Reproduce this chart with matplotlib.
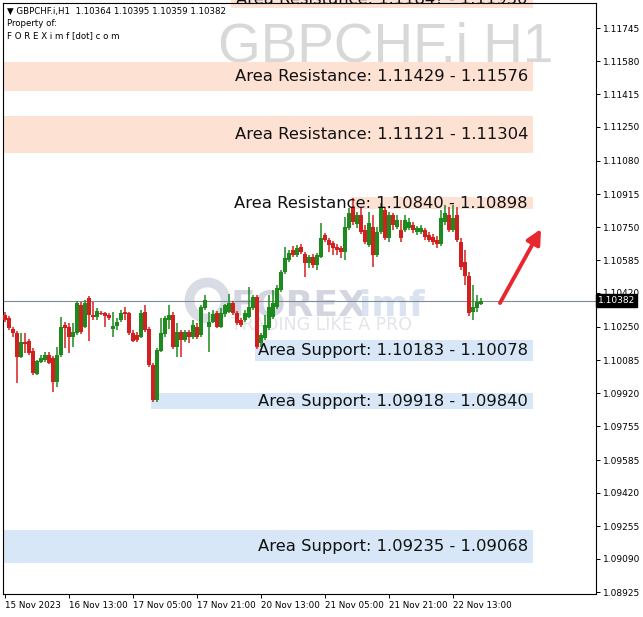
import numpy as np
import matplotlib
matplotlib.use('Agg')
import matplotlib.pyplot as plt
from matplotlib.patches import Rectangle

# GBPCHF.i H1 candles, 15 Nov 2023 21:00 .. 22 Nov 2023 20:00
opens = [
    1.10310, 1.10295, 1.10240, 1.10220, 1.10100, 1.10175, 1.10180, 1.10130, 1.10015, 1.10075,
    1.10085, 1.10110, 1.10095, 1.09975, 1.10110, 1.10260, 1.10250, 1.10200, 1.10220, 1.10360,
    1.10250, 1.10395, 1.10310, 1.10300, 1.10320, 1.10320, 1.10310, 1.10240, 1.10255, 1.10285,
    1.10325, 1.10320, 1.10220, 1.10210, 1.10200, 1.10325, 1.10240, 1.10060, 1.09885, 1.10130,
    1.10215, 1.10285, 1.10310, 1.10150, 1.10225, 1.10185, 1.10225, 1.10200, 1.10250, 1.10210,
    1.10345, 1.10250, 1.10275, 1.10320, 1.10250, 1.10315, 1.10325, 1.10370, 1.10320, 1.10285,
    1.10285, 1.10300, 1.10345, 1.10400, 1.10170, 1.10195, 1.10245, 1.10300, 1.10350, 1.10435,
    1.10525, 1.10585, 1.10635, 1.10610, 1.10650, 1.10615, 1.10570, 1.10600, 1.10560, 1.10600,
    1.10710, 1.10685, 1.10670, 1.10650, 1.10645, 1.10625, 1.10745, 1.10850, 1.10765, 1.10810,
    1.10735, 1.10660, 1.10750, 1.10610, 1.10725, 1.10835, 1.10695, 1.10810, 1.10750, 1.10735,
    1.10735, 1.10745, 1.10760, 1.10725, 1.10725, 1.10735, 1.10710, 1.10700, 1.10685, 1.10665,
    1.10775, 1.10810, 1.10735, 1.10810, 1.10675, 1.10575, 1.10505, 1.10325, 1.10345, 1.10364,
]
highs = [
    1.10325, 1.10305, 1.10250, 1.10230, 1.10220, 1.10220, 1.10190, 1.10145, 1.10085, 1.10110,
    1.10125, 1.10125, 1.10105, 1.10150, 1.10300, 1.10275, 1.10270, 1.10270, 1.10380, 1.10375,
    1.10385, 1.10405, 1.10375, 1.10345, 1.10330, 1.10325, 1.10320, 1.10325, 1.10295, 1.10335,
    1.10350, 1.10325, 1.10235, 1.10225, 1.10335, 1.10360, 1.10250, 1.10070, 1.10145, 1.10295,
    1.10305, 1.10360, 1.10325, 1.10270, 1.10235, 1.10235, 1.10235, 1.10285, 1.10270, 1.10360,
    1.10410, 1.10325, 1.10335, 1.10330, 1.10345, 1.10365, 1.10415, 1.10380, 1.10330, 1.10295,
    1.10335, 1.10450, 1.10410, 1.10410, 1.10220, 1.10310, 1.10410, 1.10435, 1.10460, 1.10535,
    1.10650, 1.10635, 1.10655, 1.10660, 1.10665, 1.10625, 1.10610, 1.10615, 1.10620, 1.10770,
    1.10720, 1.10695, 1.10680, 1.10665, 1.10655, 1.10800, 1.10845, 1.10895, 1.10825, 1.10845,
    1.10760, 1.10825, 1.10810, 1.10750, 1.10870, 1.10850, 1.10825, 1.10820, 1.10810, 1.10785,
    1.10810, 1.10795, 1.10775, 1.10755, 1.10760, 1.10745, 1.10725, 1.10715, 1.10705, 1.10835,
    1.10860, 1.10850, 1.10860, 1.10850, 1.10695, 1.10635, 1.10525, 1.10460, 1.10410, 1.10395,
]
lows = [
    1.10275, 1.10235, 1.10200, 1.09970, 1.10095, 1.10120, 1.10110, 1.10010, 1.10010, 1.10070,
    1.10075, 1.10065, 1.09925, 1.09950, 1.10100, 1.10145, 1.10120, 1.10150, 1.10210, 1.10215,
    1.10245, 1.10180, 1.10285, 1.10285, 1.10310, 1.10250, 1.10285, 1.10200, 1.10235, 1.10275,
    1.10285, 1.10210, 1.10175, 1.10175, 1.10195, 1.10225, 1.10050, 1.09875, 1.09875, 1.10125,
    1.10200, 1.10240, 1.10140, 1.10100, 1.10100, 1.10175, 1.10170, 1.10190, 1.10190, 1.10200,
    1.10335, 1.10125, 1.10270, 1.10245, 1.10245, 1.10300, 1.10320, 1.10310, 1.10260, 1.10250,
    1.10275, 1.10295, 1.10335, 1.10140, 1.10150, 1.10185, 1.10235, 1.10290, 1.10340, 1.10425,
    1.10515, 1.10575, 1.10600, 1.10600, 1.10615, 1.10500, 1.10545, 1.10545, 1.10535, 1.10595,
    1.10675, 1.10625, 1.10610, 1.10610, 1.10595, 1.10585, 1.10735, 1.10760, 1.10745, 1.10715,
    1.10665, 1.10650, 1.10550, 1.10600, 1.10715, 1.10685, 1.10675, 1.10735, 1.10740, 1.10675,
    1.10725, 1.10735, 1.10720, 1.10710, 1.10715, 1.10685, 1.10675, 1.10660, 1.10645, 1.10655,
    1.10760, 1.10725, 1.10725, 1.10675, 1.10535, 1.10460, 1.10305, 1.10285, 1.10325, 1.10359,
]
closes = [
    1.10285, 1.10245, 1.10220, 1.10100, 1.10175, 1.10165, 1.10120, 1.10020, 1.10080, 1.10095,
    1.10110, 1.10070, 1.09975, 1.10110, 1.10250, 1.10245, 1.10200, 1.10225, 1.10370, 1.10225,
    1.10370, 1.10310, 1.10300, 1.10330, 1.10315, 1.10305, 1.10295, 1.10255, 1.10275, 1.10320,
    1.10315, 1.10220, 1.10180, 1.10185, 1.10320, 1.10235, 1.10060, 1.09885, 1.10135, 1.10220,
    1.10295, 1.10310, 1.10150, 1.10225, 1.10185, 1.10225, 1.10200, 1.10260, 1.10200, 1.10350,
    1.10385, 1.10275, 1.10315, 1.10250, 1.10320, 1.10360, 1.10370, 1.10320, 1.10270, 1.10260,
    1.10320, 1.10350, 1.10400, 1.10150, 1.10210, 1.10260, 1.10350, 1.10370, 1.10445, 1.10525,
    1.10595, 1.10620, 1.10610, 1.10645, 1.10625, 1.10570, 1.10600, 1.10560, 1.10610, 1.10695,
    1.10685, 1.10660, 1.10645, 1.10635, 1.10625, 1.10750, 1.10820, 1.10775, 1.10810, 1.10725,
    1.10675, 1.10770, 1.10610, 1.10725, 1.10845, 1.10695, 1.10810, 1.10760, 1.10785, 1.10695,
    1.10785, 1.10775, 1.10735, 1.10745, 1.10745, 1.10700, 1.10685, 1.10675, 1.10665, 1.10795,
    1.10820, 1.10735, 1.10795, 1.10685, 1.10550, 1.10505, 1.10320, 1.10350, 1.10375, 1.10382,
]

# resistance / support areas: (low, high, label prices, first bar)
res_zones = [(1.11847, 1.11930, '1.1184? - 1.11930', 56.5),
             (1.11429, 1.11576, '1.11429 - 1.11576', -0.5),
             (1.11121, 1.11304, '1.11121 - 1.11304', -0.5),
             (1.10840, 1.10898, '1.10840 - 1.10898', 86.5)]
sup_zones = [(1.10078, 1.10183, '1.10183 - 1.10078', 62.5),
             (1.09840, 1.09918, '1.09918 - 1.09840', 36.5),
             (1.09068, 1.09235, '1.09235 - 1.09068', -0.5)]
zone_end = 132

price_ticks = [1.11745, 1.11580, 1.11415, 1.11250, 1.11080, 1.10915, 1.10750, 1.10585,
               1.10420, 1.10250, 1.10085, 1.09920, 1.09755, 1.09585, 1.09420, 1.09255,
               1.09090, 1.08925]
time_ticks = [0, 16, 32, 48, 64, 80, 96, 112]
time_labels = ['15 Nov 2023', '16 Nov 13:00', '17 Nov 05:00', '17 Nov 21:00',
               '20 Nov 13:00', '21 Nov 05:00', '21 Nov 21:00', '22 Nov 13:00']
last_price = 1.10382

fig = plt.figure(figsize=(6.43, 6.17), dpi=100)
ax = fig.add_axes([3/643, 23/617, 593/643, 591/617])
ax.set_xlim(-0.5, 147.75)
ax.set_ylim(1.08915, 1.11870)
ft = fig.transFigure

# watermarks, kept behind the zones and candles
ax.plot([50.5], [1.10387], marker='o', ms=26, mfc='none', mec='#d9dce5', mew=7,
        zorder=0.5)
ax.text(231/643, 1 - 316/617, 'FOREX', transform=ft, fontsize=26, fontweight='bold',
        color='#d3d6e0', ha='left', va='baseline', zorder=0.6)
ax.text(359/643, 1 - 316/617, 'imf', transform=ft, fontsize=26, fontweight='bold',
        color='#dbe2f0', ha='left', va='baseline', zorder=0.6)
ax.text(231/643, 1 - 330/617, 'TRADING LIKE A PRO', transform=ft, fontsize=12.5,
        color='#e2e4ea', ha='left', va='baseline', zorder=0.6)
ax.text(553/643, 1 - 61/617, 'GBPCHF.i H1', transform=ft, fontsize=39.5, color='#d8d8d8',
        ha='right', va='baseline', family='Liberation Sans', zorder=0.6)

# zones
for lo, hi, lab, x0 in res_zones:
    ax.add_patch(Rectangle((x0, lo), zone_end - x0, hi - lo, color='#fde2d4', lw=0,
                           zorder=1, clip_on=False))
    ax.text(130.75, (lo + hi) / 2, 'Area Resistance: ' + lab, ha='right', va='center',
            fontsize=11.8, color='#111111', zorder=4, clip_on=False)
for lo, hi, lab, x0 in sup_zones:
    ax.add_patch(Rectangle((x0, lo), zone_end - x0, hi - lo, color='#d7e7f8', lw=0,
                           zorder=1))
    ax.text(130.75, (lo + hi) / 2, 'Area Support: ' + lab, ha='right', va='center',
            fontsize=11.8, color='#111111', zorder=4)

ax.axhline(last_price, color='#7d8a96', lw=0.8, zorder=2)

# candles
o = np.array(opens); h = np.array(highs); l = np.array(lows); c = np.array(closes)
x = np.arange(len(o))
up = c >= o
cols = np.where(up, '#1c8a1c', '#d41f1f')
ax.vlines(x, l, h, colors=cols, lw=1.1, zorder=3)
body = np.maximum(np.abs(c - o), 0.00003)
ax.bar(x, body, bottom=np.minimum(o, c), width=0.78, color=cols, lw=0, zorder=3)

# arrow
ax.annotate('', xy=(134.0, 1.10740), xytext=(123.75, 1.10370),
            arrowprops=dict(arrowstyle='-|>', color='#e8262d', lw=2.8, mutation_scale=22,
                            shrinkA=0, shrinkB=0), zorder=5)

# axes styling
for s in ax.spines.values():
    s.set_color('black')
    s.set_linewidth(0.8)
ax.yaxis.tick_right()
ax.set_yticks(price_ticks)
ax.set_yticklabels(['%.5f' % p for p in price_ticks])
ax.tick_params(axis='y', direction='out', length=3, width=0.7, labelsize=6.5, pad=2)
ax.set_xticks(time_ticks)
ax.set_xticklabels(time_labels)
ax.tick_params(axis='x', direction='out', length=3, width=0.7, labelsize=6.3, pad=2)
for t in ax.get_xticklabels():
    t.set_ha('left')

ax.text(1.003, last_price, '%.5f' % last_price, transform=ax.get_yaxis_transform(),
        ha='left', va='center', color='white', fontsize=6.5, clip_on=False, zorder=6,
        bbox=dict(boxstyle='square,pad=0.25', fc='black', ec='black'))

fig.text(7/643, 1 - 11/617, '\u25bc GBPCHF.i,H1  1.10364 1.10395 1.10359 1.10382',
         fontsize=6.2, va='center')
fig.text(7/643, 1 - 24/617, 'Property of:', fontsize=6.2, va='center')
fig.text(7/643, 1 - 36/617, 'F O R E X i m f [dot] c o m', fontsize=6.2, va='center')

fig.savefig('out.png', dpi=100)
